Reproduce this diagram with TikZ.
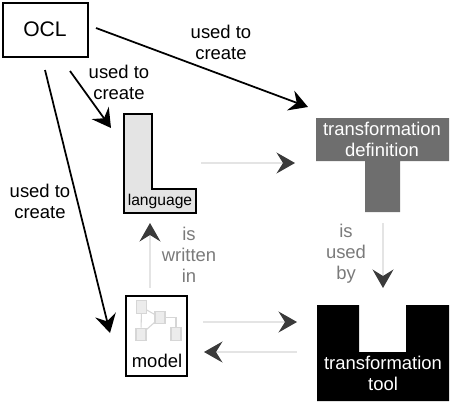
\documentclass[tikz,border=0pt]{standalone}
\usepackage{fontspec}
\setmainfont{Liberation Sans}
\usepackage{xcolor}
\usetikzlibrary{arrows.meta}
\definecolor{tgray}{HTML}{6E6E6E}
\definecolor{lfill}{HTML}{E4E4E4}
\definecolor{lbltxt}{HTML}{7A7A7A}
\definecolor{thinline}{HTML}{E4E4E4}
\definecolor{tipdark}{HTML}{3A3A3A}
\definecolor{iconfill}{HTML}{ECECEC}
\definecolor{iconline}{HTML}{D6D6D6}
\tikzset{
  vframe/.style={draw=black,line width=1.1pt,fill=white},
  vlabel/.style={align=center,inner sep=0pt,text=black},
  vmuted/.style={vlabel,text=lbltxt},
  vwhite/.style={vlabel,text=white},
  varr/.style={-{Stealth[length=3.7mm,width=4.2mm,inset=1.3mm]},line width=1pt,draw=black},
  vgrey/.style={-{Stealth[length=3.7mm,width=4.2mm,inset=1.3mm,color=tipdark]},line width=0.6pt,draw=thinline},
  vicon/.style={draw=iconline,fill=iconfill,line width=0.6pt,inner sep=0pt,minimum width=0.2cm,minimum height=0.25cm},
  vlink/.style={draw=iconline,line width=0.6pt}
}
\begin{document}
\begin{tikzpicture}[x=0.02cm,y=-0.02cm,font=\fontsize{10.5}{12}\selectfont]
  \useasboundingbox (0,0) rectangle (450,403);
  % shapes
  \draw[vframe] (3,3) rectangle (88,57);
  \draw[vframe,fill=lfill] (124,114) -- (152,114) -- (152,189) -- (196,189) -- (196,213) -- (124,213) -- cycle;
  \fill[tgray] (316,118) -- (449,118) -- (449,161) -- (400,161) -- (400,212) -- (365,212) -- (365,161) -- (316,161) -- cycle;
  \draw[vframe] (126,296) rectangle (187,376);
  \fill[black] (317,305) -- (359,305) -- (359,352) -- (406,352) -- (406,305) -- (449,305) -- (449,401) -- (317,401) -- cycle;
  % names
  \node[vlabel,font=\fontsize{12}{14}\selectfont] (ocl) at (45,29) {OCL};
  \node[vlabel,font=\fontsize{8.9}{11}\selectfont] (language) at (160,201) {language};
  \node[vwhite] (definition) at (382,139.5) {transformation\\definition};
  \node[vlabel] (model) at (157,361) {model};
  \node[vwhite] (tool) at (383,373.5) {transformation\\tool};
  % model icon
  \node[vicon] (ia) at (141.5,307) {};
  \node[vicon] (ib) at (160,317.5) {};
  \node[vicon] (ic) at (141,334.5) {};
  \node[vicon] (id) at (176,334) {};
  \draw[vlink] (ia) -- (ib);
  \draw[vlink] (ia) -- (ic);
  \draw[vlink] (ic) -- (ib);
  \draw[vlink] (ib.east) -| (id.north);
  % ends of the connectors
  \coordinate (a1) at (96,28);
  \coordinate (a2) at (308,107);
  \coordinate (b1) at (70,71);
  \coordinate (b2) at (111,128);
  \coordinate (c1) at (45,70);
  \coordinate (c2) at (110,333);
  \coordinate (d1) at (201,163);
  \coordinate (d2) at (295,163);
  \coordinate (e1) at (150,288);
  \coordinate (e2) at (150,223);
  \coordinate (f1) at (203,322);
  \coordinate (f2) at (297,322);
  \coordinate (g1) at (297,352);
  \coordinate (g2) at (204,352);
  \coordinate (h1) at (383,223);
  \coordinate (h2) at (383,288);
  \foreach \from/\to in {a1/a2,b1/b2,c1/c2}{
    \draw[varr] (\from) -- (\to);
  }
  \foreach \from/\to in {d1/d2,e1/e2,f1/f2,g1/g2,h1/h2}{
    \draw[vgrey] (\from) -- (\to);
  }
  % labels
  \node[vlabel] (usedright) at (221,42) {used to\\create};
  \node[vlabel] (usedmid) at (119,82) {used to\\create};
  \node[vlabel] (usedleft) at (40,201) {used to\\create};
  \node[vmuted] (written) at (189,255) {is\\written\\in};
  \node[vmuted] (usedby) at (346,254) {is\\used\\by};
\end{tikzpicture}
\end{document}
